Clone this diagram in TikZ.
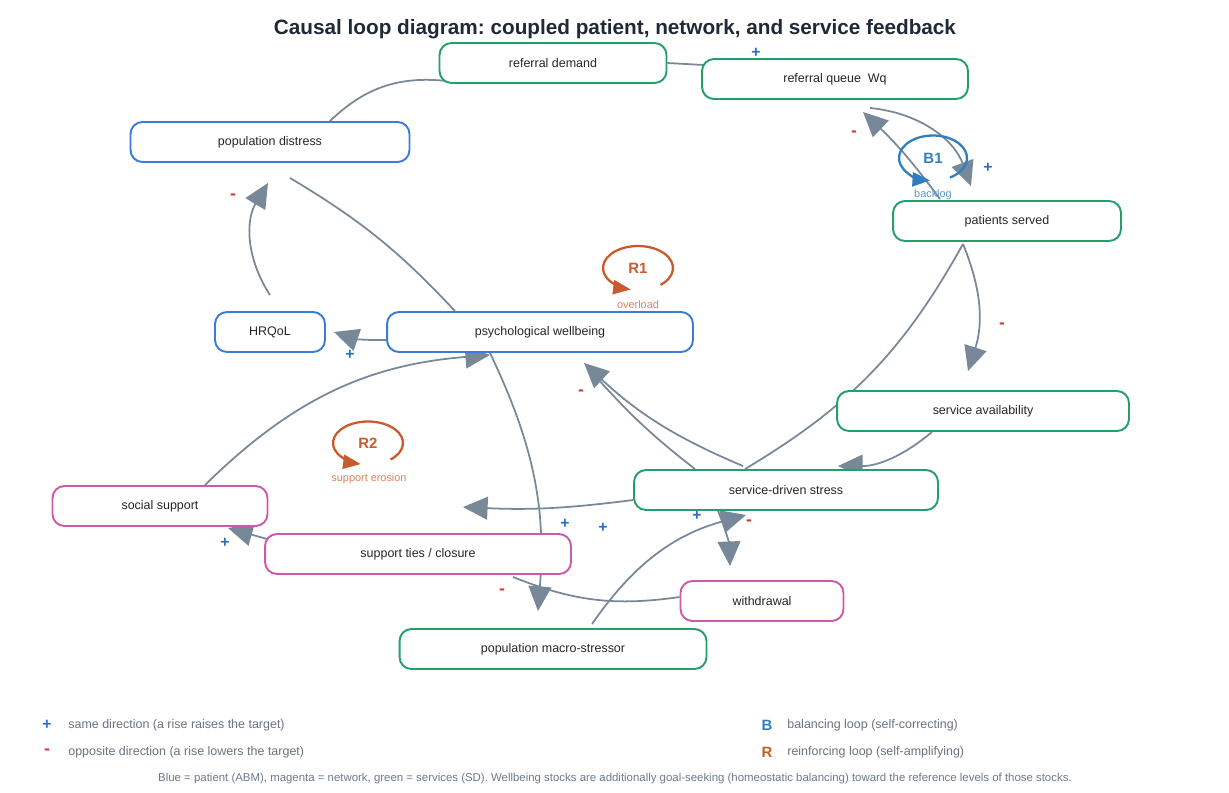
\documentclass[tikz,border=0pt]{standalone}
\usepackage{fontspec}
\setmainfont{Liberation Sans}
\usetikzlibrary{arrows.meta, calc, backgrounds}
\frenchspacing

\definecolor{patblue}{RGB}{58,124,216}
\definecolor{netmag}{RGB}{204,90,168}
\definecolor{svcgreen}{RGB}{35,160,105}
\definecolor{edgegray}{RGB}{119,136,153}
\definecolor{plusblue}{RGB}{45,111,196}
\definecolor{minusred}{RGB}{210,58,58}
\definecolor{loopred}{RGB}{201,90,43}
\definecolor{looptagred}{RGB}{222,128,88}
\definecolor{loopblue}{RGB}{47,127,192}
\definecolor{looptagblue}{RGB}{88,150,210}
\definecolor{titleink}{RGB}{31,41,55}
\definecolor{legendgray}{RGB}{107,114,128}
\definecolor{footgray}{RGB}{107,122,140}

\begin{document}
\begin{tikzpicture}[x=0.02cm, y=-0.02cm,
    box/.style={rectangle, rounded corners=6.8pt, draw, line width=1.1pt, fill=white, text=black!85, font=\fontsize{7.1}{8}\selectfont, text centered, minimum height=0.8cm},
    arrow/.style={draw=edgegray, line width=1pt, -{Triangle[length=14pt, width=13pt]}},
    link/.style={draw=edgegray, line width=1pt},
    plus/.style={text=plusblue, font=\bfseries\fontsize{9}{9}\selectfont, inner sep=0pt},
    minus/.style={text=minusred, font=\bfseries\fontsize{10}{10}\selectfont, inner sep=0pt},
    loopname/.style={font=\bfseries\fontsize{8.5}{9}\selectfont, inner sep=0pt},
    looptag/.style={font=\fontsize{6.2}{7}\selectfont, inner sep=0pt},
    loopline/.style={line width=1.3pt, -{Triangle[length=10pt, width=8pt]}},
    legend/.style={anchor=west, inner sep=0pt, text=legendgray, font=\fontsize{7.1}{8}\selectfont},
  ]
  \useasboundingbox (0,0) rectangle (1229,792);

  \node[font=\bfseries\fontsize{11.8}{13}\selectfont, text=titleink] (title) at (615,29) {Causal loop diagram: coupled patient, network, and service feedback};

  \node[box, draw=svcgreen, minimum width=4.54cm] (rd) at (553,63) {referral demand};
  \node[box, draw=svcgreen, minimum width=5.32cm] (rq) at (835,79) {referral queue~ Wq};
  \node[box, draw=patblue, minimum width=5.58cm] (pd) at (270,142) {population distress};
  \node[box, draw=svcgreen, minimum width=4.56cm] (ps) at (1007,221) {patients served};
  \node[box, draw=patblue, minimum width=2.2cm] (hq) at (270,332) {HRQoL};
  \node[box, draw=patblue, minimum width=6.12cm] (pw) at (540,332) {psychological wellbeing};
  \node[box, draw=svcgreen, minimum width=5.84cm] (sa) at (983,411) {service availability};
  \node[box, draw=svcgreen, minimum width=6.08cm] (ss) at (786,490) {service-driven stress};
  \node[box, draw=netmag, minimum width=4.3cm] (so) at (160,506) {social support};
  \node[box, draw=netmag, minimum width=6.12cm] (st) at (418,554) {support ties / closure};
  \node[box, draw=netmag, minimum width=3.26cm] (wd) at (762,601) {withdrawal};
  \node[box, draw=svcgreen, minimum width=6.14cm] (pm) at (553,649) {population macro-stressor};

  \begin{scope}[on background layer]
    \draw[link] ($(pd.north)+(60,0)$) to[bend left=25] ($(rd.south west)+(8,-3)$);
    \draw[link] (rd.east) -- ($(rq.west)+(3,-14)$);
    \draw[arrow] ($(rq.south)+(35,8)$) to[bend left=32] ($(ps.north)+(-36,-14)$);
    \draw[arrow] ($(ps.north)+(-67,-1)$) to[bend right=5] ($(rq.south)+(28,12)$);
    \draw[arrow] ($(ps.south)+(-44,2)$) to[bend left=20] ($(sa.north)+(-15,-19)$);
    \draw[link] ($(ps.south)+(-44,2)$) to[bend left=15] ($(ss.north)+(-41,0)$);
    \draw[arrow] ($(sa.south)+(-51,0)$) to[bend left=20] ($(ss.north)+(52,-3)$);
    \draw[arrow] ($(ss.north)+(-43,-3)$) to[bend left=10] ($(pw.south)+(44,10)$);
    \draw[link] ($(ss.north)+(-91,0)$) to[bend left=5] ($(pw.south)+(57,25)$);
    \draw[arrow] ($(pw.west)+(0,8)$) to[bend left=10] ($(hq.east)+(8,0)$);
    \draw[arrow] ($(hq.north)+(0,-16)$) to[bend left=32] ($(pd.south)+(-2,20)$);
    \draw[link] ($(pw.north)+(-85,0)$) to[bend right=8] ($(pd.south)+(20,15)$);
    \draw[arrow] ($(so.north)+(45,0)$) to[bend left=20] ($(pw.south)+(-50,2)$);
    \draw[arrow] ($(pw.south)+(-50,0)$) to[bend left=15] ($(pm.north)+(-15,-17)$);
    \draw[arrow] ($(ss.west)+(0,10)$) to[bend left=5] ($(st.north)+(45,-26)$);
    \draw[arrow] ($(st.west)+(3,-15)$) -- ($(so.south)+(68,1)$);
    \draw[link] ($(wd.west)+(0,-4)$) to[bend left=15] ($(st.south)+(95,2)$);
    \draw[arrow] ($(pm.north)+(39,-4)$) to[bend left=20] ($(ss.south)+(-40,4)$);
    \draw[arrow] ($(ss.south)+(-68,0)$) to[bend left=10] ($(wd.north)+(-32,-14)$);
    \node[plus] (p4) at (421,346) {+};
  \end{scope}

  \node[plus] (p1) at (756,53) {+};
  \node[plus] (p2) at (988,168) {+};
  \node[plus] (p3) at (350,355) {+};
  \node[plus] (p5) at (565,524) {+};
  \node[plus] (p6) at (603,528) {+};
  \node[plus] (p7) at (697,516) {+};
  \node[plus] (p8) at (225,543) {+};
  \node[minus] (m1) at (854,134) {-};
  \node[minus] (m2) at (1002,326) {-};
  \node[minus] (m3) at (233,197) {-};
  \node[minus] (m4) at (581,393) {-};
  \node[minus] (m5) at (502,592) {-};
  \node[minus] (m6) at (749,523) {-};

  \node[loopname, text=loopblue] (b1) at (933,158) {B1};
  \node[looptag, text=looptagblue] (b1tag) at (933,195) {backlog};
  \draw[loopline, loopblue] ([shift={(-60:0.68cm and 0.45cm)}]b1.center) arc[start angle=-60, end angle=265, x radius=0.68cm, y radius=0.45cm];

  \node[loopname, text=loopred] (r1) at (638,268) {R1};
  \node[looptag, text=looptagred] (r1tag) at (638,305) {overload};
  \draw[loopline, loopred] ([shift={(-50:0.7cm and 0.44cm)}]r1.center) arc[start angle=-50, end angle=258, x radius=0.7cm, y radius=0.44cm];

  \node[loopname, text=loopred] (r2) at (368,443) {R2};
  \node[looptag, text=looptagred] (r2tag) at (369,479) {support erosion};
  \draw[loopline, loopred] ([shift={(-50:0.7cm and 0.43cm)}]r2.center) arc[start angle=-50, end angle=258, x radius=0.7cm, y radius=0.43cm];

  \node[plus] (lgplus) at (47,725) {+};
  \node[legend] (lgplustxt) at (68,725) {same direction (a rise raises the target)};
  \node[minus] (lgminus) at (47,752) {-};
  \node[legend] (lgminustxt) at (68,752) {opposite direction (a rise lowers the target)};
  \node[loopname, text=loopblue] (lgb) at (767,725) {B};
  \node[legend] (lgbtxt) at (787,725) {balancing loop (self-correcting)};
  \node[loopname, text=loopred] (lgr) at (767,752) {R};
  \node[legend] (lgrtxt) at (787,752) {reinforcing loop (self-amplifying)};

  \node[text=footgray, font=\fontsize{6.5}{7}\selectfont] (foot) at (615,779) {Blue = patient (ABM), magenta = network, green = services (SD). Wellbeing stocks are additionally goal-seeking (homeostatic balancing) toward the reference levels of those stocks.};
\end{tikzpicture}
\end{document}
